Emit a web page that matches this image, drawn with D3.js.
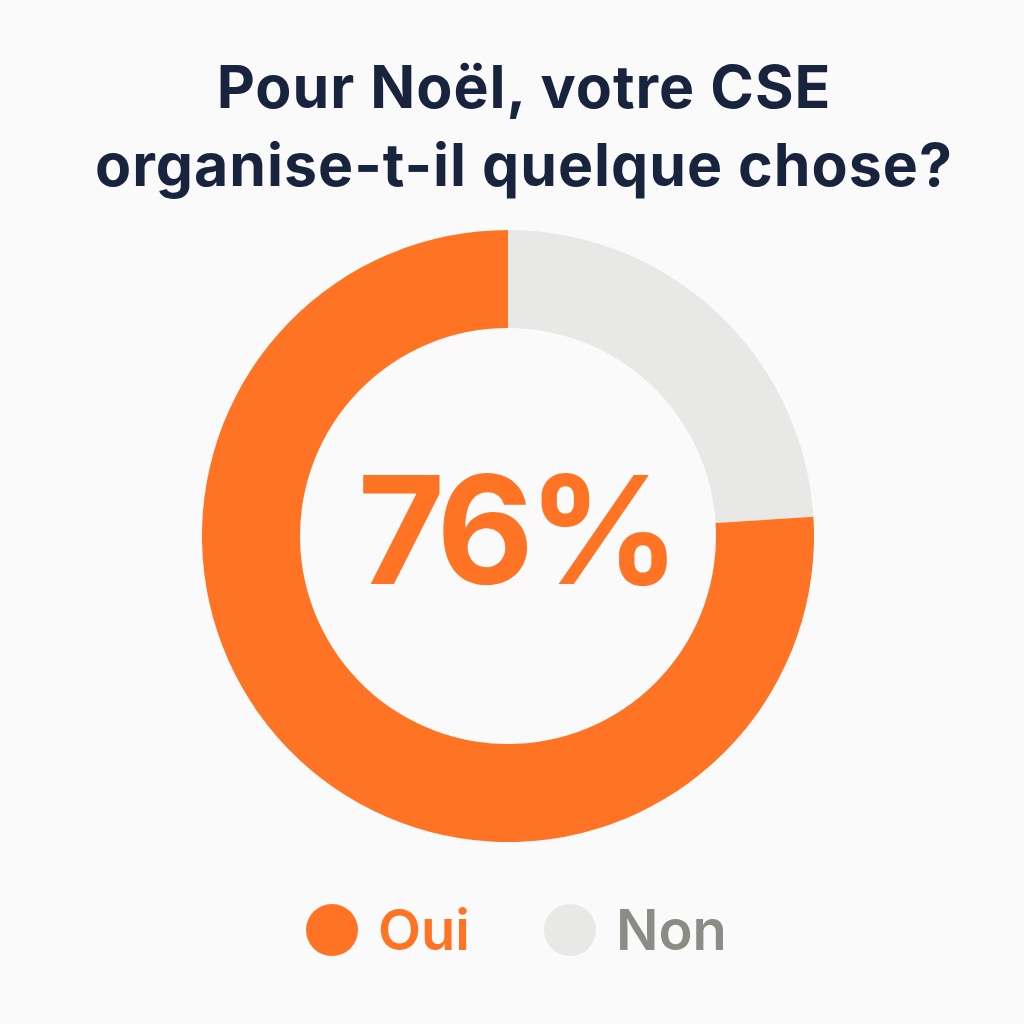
<!DOCTYPE html>
<html>
<head>
<meta charset="utf-8">
<script src="https://cdn.jsdelivr.net/npm/d3@7"></script>
<style>
  body { margin: 0; background: #fafafa; }
  text { font-family: Inter, "Open Sans", sans-serif; }
</style>
</head>
<body>
<div id="chart"></div>
<script>
// data
const CATEGORIES = ["Non", "Oui"];
const VALUES = [24, 76];
const COLORS = ["#e8e8e6", "#ff7424"];
const LEGEND_ORDER = ["Oui", "Non"];
const LEGEND_TEXT_COLORS = { Oui: "#ff7424", Non: "#8c8b86" };
const TITLE_LINES = ["Pour Noël, votre CSE", "organise-t-il quelque chose?"];

const WIDTH = 1024, HEIGHT = 1024;
const CX = 508, CY = 536;
const OUTER = 306, INNER = 208;

const svg = d3.select("#chart").append("svg")
    .attr("width", WIDTH).attr("height", HEIGHT);

svg.append("rect").attr("width", WIDTH).attr("height", HEIGHT).attr("fill", "#fafafa");

// title
svg.append("g").selectAll("text")
    .data(TITLE_LINES)
    .enter().append("text")
      .attr("x", 524)
      .attr("y", (d, i) => 108 + i * 78)
      .attr("text-anchor", "middle")
      .attr("font-size", "59px")
      .attr("font-weight", 700)
      .attr("letter-spacing", "1px")
      .attr("fill", "#18233d")
      .text(d => d);

// donut
const color = d3.scaleOrdinal().domain(CATEGORIES).range(COLORS);
const pie = d3.pie().sort(null).value(d => d.value);
const arc = d3.arc().innerRadius(INNER).outerRadius(OUTER);
const data = CATEGORIES.map((c, i) => ({ cat: c, value: VALUES[i] }));

svg.append("g")
    .attr("transform", "translate(" + CX + "," + CY + ")")
  .selectAll("path")
    .data(pie(data))
    .enter().append("path")
      .attr("d", arc)
      .attr("fill", d => color(d.data.cat));

// center label
svg.append("text")
    .attr("x", CX + 8).attr("y", CY + 48)
    .attr("text-anchor", "middle")
    .attr("font-size", "150px")
    .attr("font-weight", 700)
    .attr("letter-spacing", "-6px")
    .attr("fill", "#ff7424")
    .text(VALUES[1] + "%");

// legend
const legend = svg.append("g").selectAll("g")
    .data(LEGEND_ORDER)
    .enter().append("g")
      .attr("transform", (d, i) => "translate(" + (332 + i * 238) + ",930)");

legend.append("circle")
    .attr("r", 26)
    .attr("fill", d => color(d));

legend.append("text")
    .attr("x", 46).attr("y", 20)
    .attr("font-size", "56px")
    .attr("font-weight", 600)
    .attr("fill", d => LEGEND_TEXT_COLORS[d])
    .text(d => d);
</script>
</body>
</html>
